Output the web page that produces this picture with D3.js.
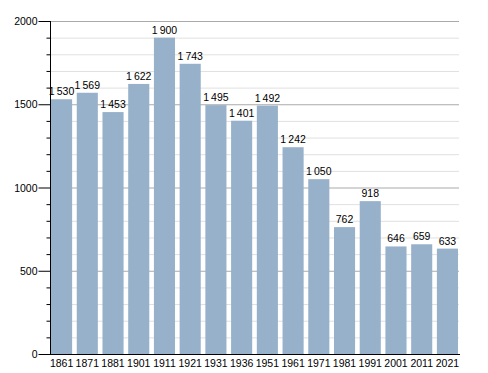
<!DOCTYPE html>
<html>
<head>
<meta charset="utf-8">
<script src="https://cdn.jsdelivr.net/npm/d3@7"></script>
<style>
  body { margin: 0; background: #fff; }
  text { font-family: "Liberation Sans", Arial, sans-serif; }
</style>
</head>
<body>
<div id="chart"></div>
<script>
const years = ['1861', '1871', '1881', '1901', '1911', '1921', '1931', '1936', '1951', '1961', '1971', '1981', '1991', '2001', '2011', '2021']
const population = [1530, 1569, 1453, 1622, 1900, 1743, 1495, 1401, 1492, 1242, 1050, 762, 918, 646, 659, 633]
const yTicks = [0, 500, 1000, 1500, 2000]

const width = 488, height = 373
const margin = { top: 21, right: 29, bottom: 19, left: 50 }
const innerW = width - margin.left - margin.right
const innerH = height - margin.top - margin.bottom

const svg = d3.select('#chart').append('svg')
  .attr('width', width)
  .attr('height', height)

const x = d3.scaleBand().domain(years).range([margin.left, margin.left + innerW]).paddingInner(0.18).paddingOuter(0.04)
const y = d3.scaleLinear().domain([0, 2000]).range([margin.top + innerH, margin.top])

const fmt = v => d3.format(',')(v).replace(',', '\u2009')

// minor grid
svg.append('g').selectAll('line')
  .data(d3.range(100, 2001, 100).filter(v => v % 500 !== 0))
  .join('line')
  .attr('x1', margin.left).attr('x2', margin.left + innerW)
  .attr('y1', d => y(d) + 0.5).attr('y2', d => y(d) + 0.5)
  .attr('stroke', '#e0e0e0')

// major grid
svg.append('g').selectAll('line')
  .data(yTicks.filter(v => v > 0))
  .join('line')
  .attr('x1', margin.left).attr('x2', margin.left + innerW)
  .attr('y1', d => y(d) + 0.5).attr('y2', d => y(d) + 0.5)
  .attr('stroke', '#aaa')

// bars
svg.append('g').selectAll('rect')
  .data(population)
  .join('rect')
  .attr('x', (d, i) => x(years[i]))
  .attr('width', x.bandwidth())
  .attr('y', d => y(d))
  .attr('height', d => y(0) - y(d))
  .attr('fill', '#97b1cb')

// value labels
svg.append('g').selectAll('text')
  .data(population)
  .join('text')
  .attr('x', (d, i) => x(years[i]) + x.bandwidth() / 2)
  .attr('y', d => y(d) - 4)
  .attr('text-anchor', 'middle')
  .attr('font-size', 10.5)
  .attr('fill', '#000')
  .text(fmt)

// y axis
const yAxis = svg.append('g').attr('transform', `translate(${margin.left + 0.5},0)`)
yAxis.append('line')
  .attr('y1', y(2000)).attr('y2', y(0))
  .attr('stroke', '#000')
yAxis.selectAll('line.minor')
  .data(d3.range(0, 2001, 100))
  .join('line')
  .attr('class', 'minor')
  .attr('x1', d => d % 500 === 0 ? -12 : -4).attr('x2', 0)
  .attr('y1', d => y(d) + 0.5).attr('y2', d => y(d) + 0.5)
  .attr('stroke', '#000')
yAxis.selectAll('text')
  .data(yTicks)
  .join('text')
  .attr('x', -13)
  .attr('y', d => y(d) + 4)
  .attr('text-anchor', 'end')
  .attr('font-size', 10.5)
  .attr('fill', '#000')
  .text(d => d)

// x axis
svg.append('line')
  .attr('x1', margin.left).attr('x2', margin.left + innerW + 1)
  .attr('y1', y(0) + 0.5).attr('y2', y(0) + 0.5)
  .attr('stroke', '#000')
svg.append('g').selectAll('text')
  .data(years)
  .join('text')
  .attr('x', d => x(d) + x.bandwidth() / 2)
  .attr('y', y(0) + 13)
  .attr('text-anchor', 'middle')
  .attr('font-size', 10.5)
  .attr('fill', '#000')
  .text(d => d)
</script>
</body>
</html>
